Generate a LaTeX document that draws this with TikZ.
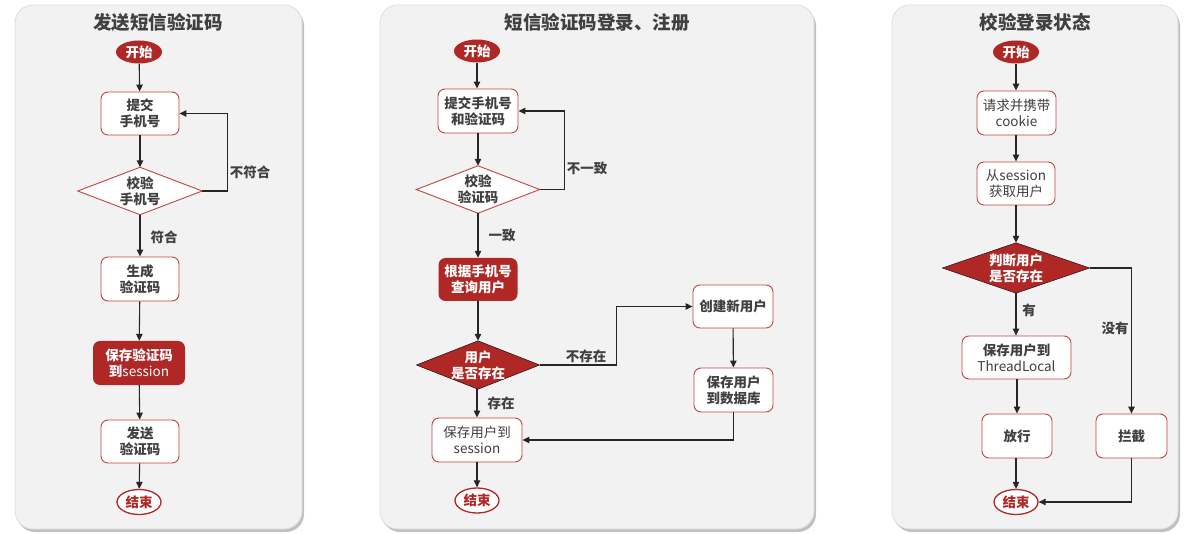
\documentclass[tikz,border=0pt]{standalone}
\usepackage{fontspec}
\setmainfont{Noto Sans CJK SC}
\usetikzlibrary{arrows.meta,shadows,calc,shapes.geometric}
\definecolor{dred}{RGB}{176,40,38}
\definecolor{bred}{RGB}{190,70,66}
\definecolor{txt}{RGB}{64,64,64}
\definecolor{panelbg}{RGB}{242,242,242}
\definecolor{panelbd}{RGB}{222,222,222}
\tikzset{
  every node/.style={font=\fontsize{13.5}{16}\selectfont\bfseries, text=txt, align=center},
  panel/.style={fill=panelbg, draw=panelbd, line width=0.8pt, rounded corners=18pt,
     drop shadow={shadow xshift=2pt, shadow yshift=-3pt, opacity=0.45, fill=black!55}},
  ptitle/.style={font=\fontsize{18.5}{22}\selectfont\bfseries, text=txt},
  startnode/.style={ellipse, fill=dred, text=white, minimum width=46pt, minimum height=23pt, inner sep=0pt},
  endnode/.style={ellipse, fill=white, draw=dred, line width=1.3pt, text=dred, minimum width=44pt, minimum height=25pt, inner sep=0pt},
  procbox/.style={rectangle, rounded corners=7pt, fill=white, draw=bred, line width=0.9pt, inner sep=0pt},
  hotbox/.style={rectangle, rounded corners=7pt, fill=dred, text=white, inner sep=0pt},
  regtext/.style={font=\fontsize{13.5}{16}\selectfont, text=txt},
  dshape/.style={rectangle, inner sep=0pt},
  dline/.style={draw=bred, fill=white, line width=0.9pt},
  dfill/.style={fill=dred},
  flow/.style={draw=black!85, line width=1.1pt, -{Triangle[length=7pt,width=6.5pt]}},
  lbl/.style={font=\fontsize{13.5}{16}\selectfont\bfseries, text=txt}
}
\begin{document}
\begin{tikzpicture}[x=1pt,y=-1pt]
\useasboundingbox (0,0) rectangle (1188,534);
% panels
\path[panel] (15,5) rectangle (302,529);
\path[panel] (380,5) rectangle (814,529);
\path[panel] (892,5) rectangle (1178,529);
\node[ptitle] (t1) at (158,22) {发送短信验证码};
\node[ptitle] (t2) at (597,22) {短信验证码登录、注册};
\node[ptitle] (t3) at (1035,22) {校验登录状态};

% ---------- panel 1
\node[startnode] (a0) at (139,52) {开始};
\node[procbox, minimum width=78pt, minimum height=43pt] (a1) at (140,113.5) {提交\\手机号};
\node[dshape, minimum width=124pt, minimum height=47pt] (a2) at (140,191) {};
\draw[dline] (a2.north) -- (a2.east) -- (a2.south) -- (a2.west) -- cycle;
\node at (a2) {校验\\手机号};
\node[procbox, minimum width=78pt, minimum height=44pt] (a3) at (140,279) {生成\\验证码};
\node[hotbox, minimum width=92pt, minimum height=44pt] (a4) at (139,363) {保存验证码\\到\mdseries session};
\node[procbox, minimum width=78pt, minimum height=43pt] (a5) at (140,441.5) {发送\\验证码};
\node[endnode] (a6) at (139,502) {结束};
\draw[flow] (a0) -- (a1);
\draw[flow] (a1) -- (a2.north);
\draw[flow] (a2.east) -- ++(25,0) |- (a1.east);
\draw[flow] (a2.south) -- (a3);
\draw[flow] (a3) -- (a4);
\draw[flow] (a4) -- (a5);
\draw[flow] (a5) -- (a6);
\node[lbl] (la1) at (250,172) {不符合};
\node[lbl] (la2) at (164,237) {符合};

% ---------- panel 2
\node[startnode] (b0) at (477,51) {开始};
\node[procbox, minimum width=80pt, minimum height=44pt] (b1) at (478,111) {提交手机号\\和验证码};
\node[dshape, minimum width=123pt, minimum height=47pt] (b2) at (478,189.5) {};
\draw[dline] (b2.north) -- (b2.east) -- (b2.south) -- (b2.west) -- cycle;
\node at (b2) {校验\\验证码};
\node[hotbox, minimum width=79pt, minimum height=43pt] (b3) at (478,279.5) {根据手机号\\查询用户};
\node[dshape, minimum width=123pt, minimum height=48pt] (b4) at (478,365) {};
\draw[dfill] (b4.north) -- (b4.east) -- (b4.south) -- (b4.west) -- cycle;
\node[text=white] at (b4) {用户\\是否存在};
\node[procbox, minimum width=80pt, minimum height=43pt] (b5) at (733,306.5) {创建新用户};
\node[procbox, minimum width=79pt, minimum height=44pt] (b6) at (733.5,390) {保存用户\\到数据库};
\node[procbox, regtext, minimum width=90pt, minimum height=44pt] (b7) at (477,440) {保存用户到\\session};
\node[endnode] (b8) at (477,500.5) {结束};
\draw[flow] (b0) -- (b0 |- b1.north);
\draw[flow] (b1.south -| b2) -- (b2.north);
\draw[flow] (b2.east) -- ++(25,0) |- (b1.east);
\draw[flow] (b2.south) -- (b3.north -| b2);
\draw[flow] (b3.south -| b4) -- (b4.north);
\draw[flow] (b4.east) -- ++(77,0) |- (b5.west);
\draw[flow] (b5) -- (b6);
\draw[flow] (b6.south) |- (b7.east);
\draw[flow] (b4.south -| b7) -- (b7.north);
\draw[flow] (b7) -- (b8);
\node[lbl] (lb1) at (587,168) {不一致};
\node[lbl] (lb2) at (502,235) {一致};
\node[lbl] (lb3) at (586,356) {不存在};
\node[lbl] (lb4) at (501,403) {存在};

% ---------- panel 3
\node[startnode] (c0) at (1016,52) {开始};
\node[procbox, regtext, minimum width=79pt, minimum height=44pt] (c1) at (1016.5,113) {请求并携带\\cookie};
\node[procbox, regtext, minimum width=78pt, minimum height=43pt] (c2) at (1016,183.5) {从session\\获取用户};
\node[dshape, minimum width=147pt, minimum height=50pt] (c3) at (1016,268) {};
\draw[dfill] (c3.north) -- (c3.east) -- (c3.south) -- (c3.west) -- cycle;
\node[text=white] at (c3) {判断用户\\是否存在};
\node[procbox, minimum width=109pt, minimum height=43pt] (c4) at (1016.5,357.5) {保存用户到\\\mdseries ThreadLocal};
\node[procbox, minimum width=70pt, minimum height=44pt] (c5) at (1017,436) {放行};
\node[procbox, minimum width=71pt, minimum height=44pt] (c6) at (1131.5,436) {拦截};
\node[endnode] (c7) at (1016,502) {结束};
\draw[flow] (c0) -- (c0 |- c1.north);
\draw[flow] (c1.south -| c0) -- (c2.north -| c0);
\draw[flow] (c2.south -| c3) -- (c3.north);
\draw[flow] (c3.south) -- (c4.north -| c3);
\draw[flow] (c4.south -| c5) -- (c5.north);
\draw[flow] (c5.south -| c7) -- (c7.north);
\draw[flow] (c3.east) -| (c6.north);
\draw[flow] (c6.south) |- (c7.east);
\node[lbl] (lc1) at (1029,310) {有};
\node[lbl] (lc2) at (1115,328) {没有};
\end{tikzpicture}
\end{document}
